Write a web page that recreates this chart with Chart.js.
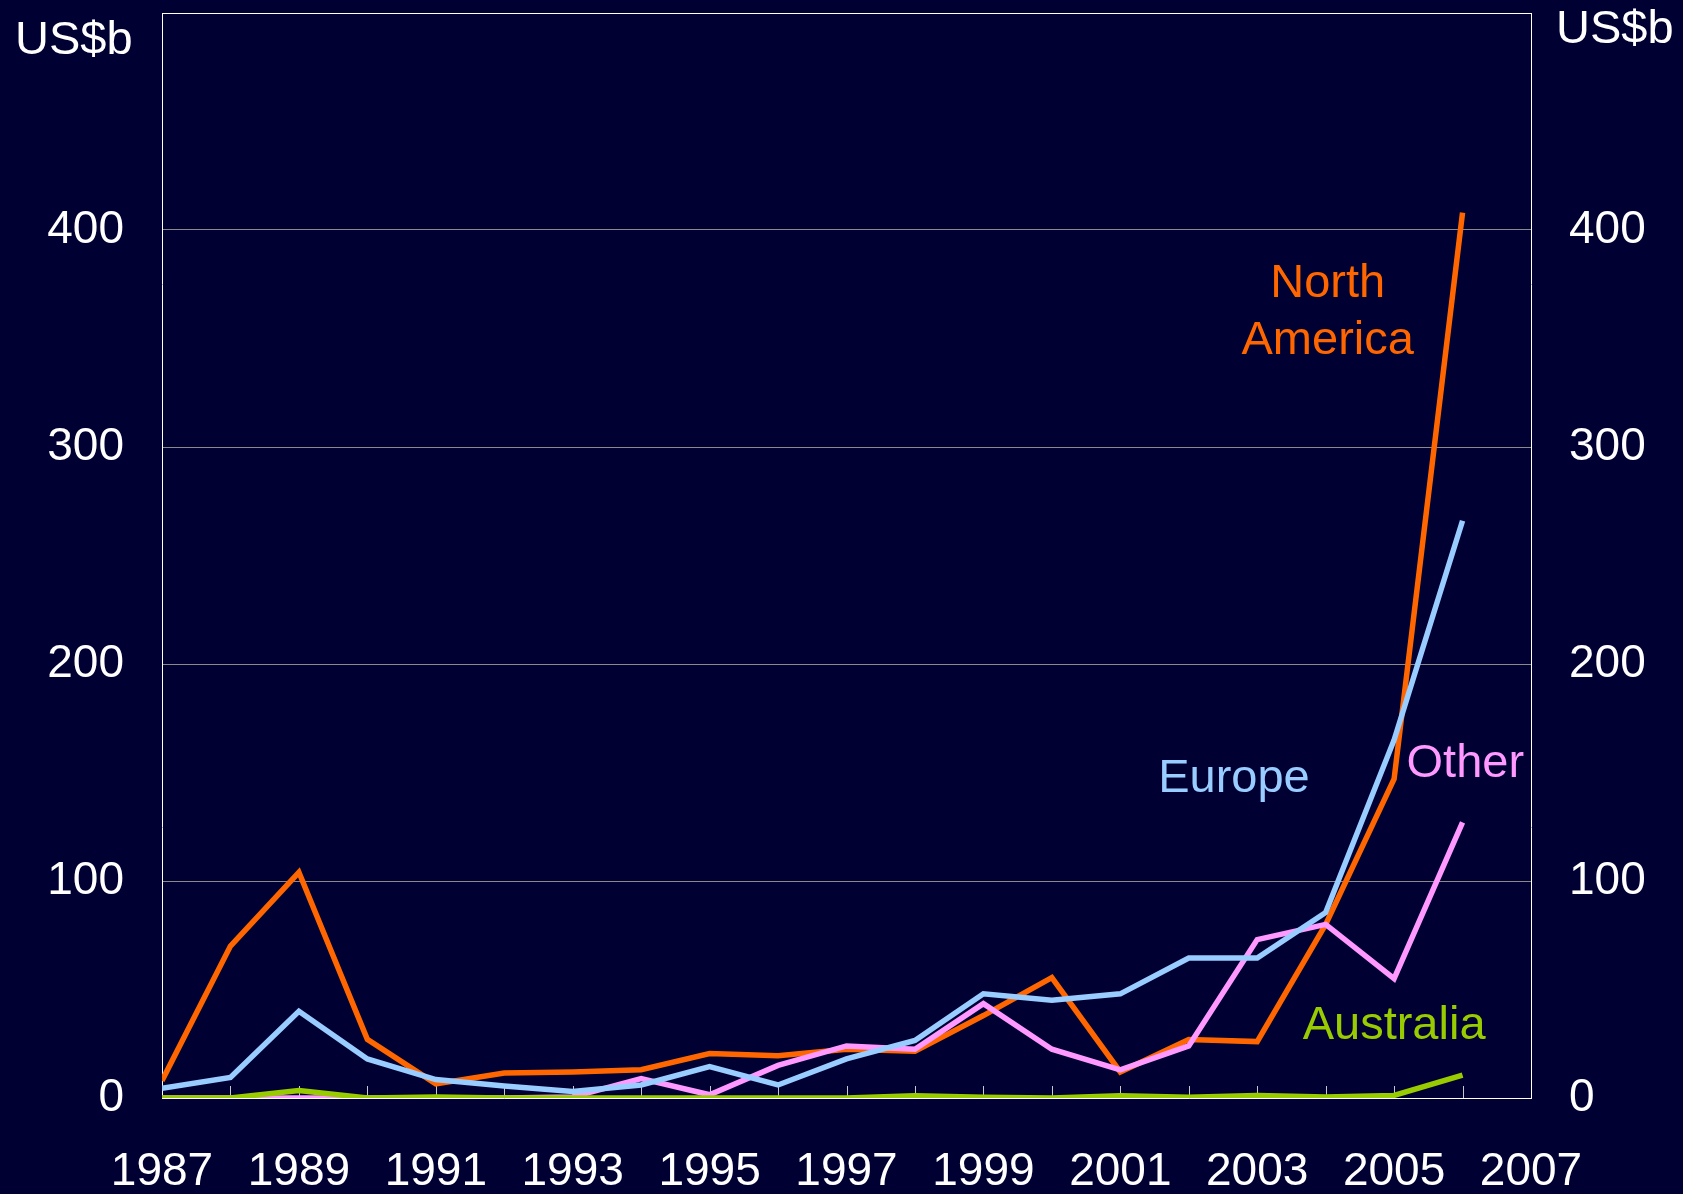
<!DOCTYPE html>
<html>
<head>
<meta charset="utf-8">
<script src="https://cdn.jsdelivr.net/npm/chart.js@4"></script>
<style>
  html, body { margin: 0; padding: 0; background: #000033; }
  #wrap { width: 1683px; height: 1194px; }
</style>
</head>
<body>
<div id="wrap"><canvas id="lboChart" width="1683" height="1194"></canvas></div>
<script>
// Données (US$b)
const years = [1987, 1988, 1989, 1990, 1991, 1992, 1993, 1994, 1995, 1996,
               1997, 1998, 1999, 2000, 2001, 2002, 2003, 2004, 2005, 2006];
const northAmerica = [8, 70, 104, 27, 6.5, 11.5, 12, 13, 20.5, 19.5,
                      22.5, 21.5, 38, 55.5, 12, 27, 26, 80, 147, 408];
const europe = [4.5, 9.5, 40, 18, 8.5, 5.5, 3, 6, 14.5, 6,
                18, 26.5, 48, 45, 48, 64.5, 64.5, 85.5, 165, 266];
const other = [0, 0, 0, 0, 0, 0, 0.5, 9, 1.5, 15,
               24, 22.5, 43.5, 22.5, 13, 24, 73, 80, 55, 127];
const australia = [0, 0, 3.5, 0, 0.5, 0, 0, 0, 0, 0,
                   0, 1, 0.3, 0, 1, 0.3, 1.2, 0.5, 1.2, 10.5];
const yTicks = [0, 100, 200, 300, 400, 500];

const FONT = '"Liberation Sans", Arial, sans-serif';

function toPoints(values) {
    return years.map((y, i) => ({ x: y, y: values[i] }));
}

// Étiquettes des séries dans le graphique
const seriesLabels = {
    id: 'seriesLabels',
    afterDatasetsDraw(chart) {
        const ctx = chart.ctx;
        const xs = chart.scales.x;
        const ys = chart.scales.y;
        const items = [
            { text: 'North', color: '#FF6600', x: 2004.03, y: 369.3 },
            { text: 'America', color: '#FF6600', x: 2004.03, y: 342.7 },
            { text: 'Europe', color: '#99CCFF', x: 2002.66, y: 141.2 },
            { text: 'Other', color: '#FF99FF', x: 2006.04, y: 147.7 },
            { text: 'Australia', color: '#99CC00', x: 2005.0, y: 27.2 }
        ];
        ctx.save();
        ctx.font = '47px ' + FONT;
        ctx.textAlign = 'center';
        ctx.textBaseline = 'alphabetic';
        items.forEach(it => {
            ctx.fillStyle = it.color;
            ctx.fillText(it.text, xs.getPixelForValue(it.x), ys.getPixelForValue(it.y));
        });
        // unités
        ctx.fillStyle = '#ffffff';
        ctx.textAlign = 'left';
        ctx.fillText('US$b', 15, 54);
        ctx.fillText('US$b', 1556, 43);
        ctx.restore();
    },
    beforeDatasetsDraw(chart) {
        // petites graduations vers l'intérieur sur l'axe des x
        const ctx = chart.ctx;
        const xs = chart.scales.x;
        const bottom = chart.chartArea.bottom;
        ctx.save();
        ctx.strokeStyle = '#c8c8c8';
        ctx.lineWidth = 1;
        for (let yr = 1988; yr < 2007; yr++) {
            const px = Math.round(xs.getPixelForValue(yr)) + 0.5;
            ctx.beginPath();
            ctx.moveTo(px, bottom);
            ctx.lineTo(px, bottom - 12);
            ctx.stroke();
        }
        ctx.restore();
    }
};

const common = { borderWidth: 5.5, pointRadius: 0, tension: 0, fill: false, borderJoinStyle: 'miter' };

function noPad(scale) {
    scale.paddingTop = 0;
    scale.paddingBottom = 0;
    scale.paddingLeft = 0;
    scale.paddingRight = 0;
}

const ctx = document.getElementById('lboChart').getContext('2d');
const chart = new Chart(ctx, {
    type: 'line',
    data: {
        datasets: [
            { label: 'North America', data: toPoints(northAmerica), borderColor: '#FF6600', order: 3, ...common },
            { label: 'Other', data: toPoints(other), borderColor: '#FF99FF', order: 2, ...common },
            { label: 'Europe', data: toPoints(europe), borderColor: '#99CCFF', order: 1, ...common },
            { label: 'Australia', data: toPoints(australia), borderColor: '#99CC00', order: 0, ...common }
        ]
    },
    options: {
        responsive: false,
        animation: false,
        layout: { padding: { top: 13, left: 0, right: 0, bottom: 0 } },
        plugins: { legend: { display: false }, tooltip: { enabled: false } },
        scales: {
            x: {
                type: 'linear',
                min: 1987,
                max: 2007,
                afterFit(scale) { scale.height = 96; noPad(scale); },
                border: { color: '#ffffff', width: 1 },
                grid: { display: false },
                ticks: {
                    stepSize: 2,
                    autoSkip: false,
                    maxRotation: 0,
                    color: '#ffffff',
                    font: { size: 46, family: FONT },
                    padding: 39,
                    callback: v => String(v)
                }
            },
            y: {
                position: 'left',
                min: 0,
                max: 500,
                afterFit(scale) { scale.width = 162; noPad(scale); },
                afterBuildTicks(scale) { scale.ticks = yTicks.map(v => ({ value: v })); },
                border: { color: '#ffffff', width: 1 },
                grid: {
                    drawTicks: false,
                    color: c => (c.tick && c.tick.value === 500) ? '#ffffff' : '#8a8a8a',
                    lineWidth: 1
                },
                ticks: {
                    color: '#ffffff',
                    font: { size: 46, family: FONT },
                    padding: 38,
                    callback: v => (v === 500 ? '' : String(v))
                }
            },
            y2: {
                position: 'right',
                min: 0,
                max: 500,
                afterFit(scale) { scale.width = 152; noPad(scale); },
                afterBuildTicks(scale) { scale.ticks = yTicks.map(v => ({ value: v })); },
                border: { color: '#ffffff', width: 1 },
                grid: { drawOnChartArea: false, drawTicks: false },
                ticks: {
                    color: '#ffffff',
                    font: { size: 46, family: FONT },
                    padding: 38,
                    callback: v => (v === 500 ? '' : String(v))
                }
            }
        }
    },
    plugins: [seriesLabels]
});
</script>
</body>
</html>
